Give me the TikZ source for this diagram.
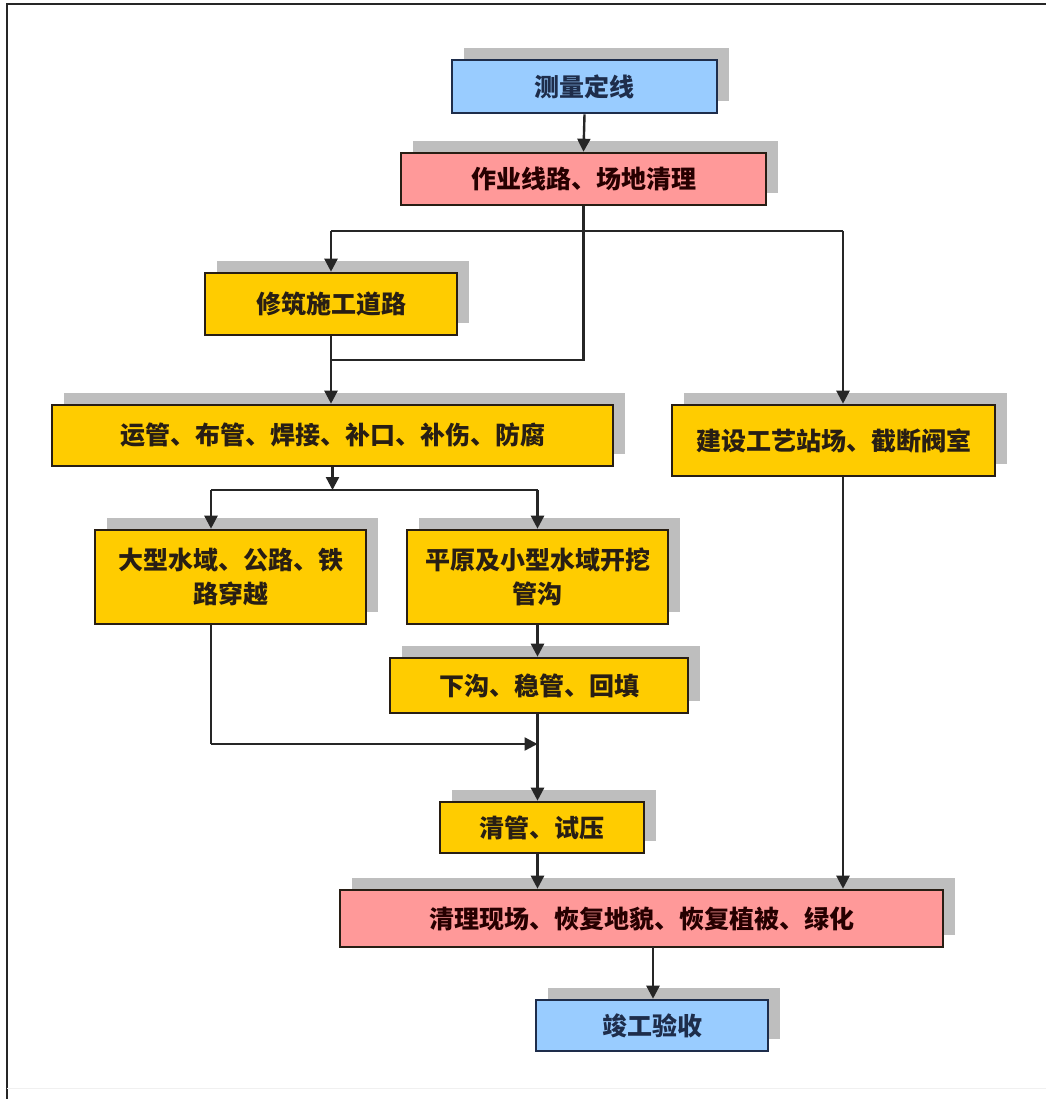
\documentclass[tikz,border=0pt]{standalone}
\usepackage{fontspec}
\newfontfamily\cjk{Noto Sans CJK SC}
\usetikzlibrary{arrows.meta,shadows}
\definecolor{bluefill}{RGB}{153,204,255}
\definecolor{pinkfill}{RGB}{255,153,153}
\definecolor{yellowfill}{RGB}{255,204,0}
\definecolor{shadowgray}{RGB}{190,190,190}
\definecolor{navy}{RGB}{30,45,75}
\definecolor{darkline}{RGB}{40,30,20}
\tikzset{
  boxbase/.style={draw=darkline, line width=2.6pt, inner sep=0pt, align=center,
    font=\cjk\bfseries\fontsize{25}{34}\selectfont, text=darkline,
    drop shadow={shadow xshift=12pt, shadow yshift=12pt, fill=shadowgray, opacity=1}},
  bluebox/.style={boxbase, fill=bluefill, draw=navy, text=navy},
  pinkbox/.style={boxbase, fill=pinkfill, text=black!85!red},
  yellowbox/.style={boxbase, fill=yellowfill},
  conn/.style={line width=2.4pt, draw=black!85},
  arr/.style={conn, -{Triangle[length=13pt,width=13pt]}},
}
\begin{document}
\begin{tikzpicture}[x=1pt,y=-1pt]
\useasboundingbox (0,0) rectangle (1046,1099);
\fill[white] (0,0) rectangle (1046,1099);
% frame
\draw[line width=2.4pt, black!85] (7,1099) -- (7,4) -- (1046,4);
\draw[line width=1pt, black!6] (7,1088) -- (1046,1088);

\node[bluebox, minimum width=265pt, minimum height=53pt] (m) at (584.5,86.5) {测量定线};
\node[pinkbox, minimum width=365pt, minimum height=52pt] (z) at (583.5,179) {作业线路、场地清理};
\node[yellowbox, minimum width=252pt, minimum height=62pt] (x) at (331,304) {修筑施工道路};
\node[yellowbox, minimum width=561pt, minimum height=61pt] (y) at (332.5,435.5) {运管、布管、焊接、补口、补伤、防腐};
\node[yellowbox, minimum width=323pt, minimum height=71pt] (j) at (833.5,440.5) {建设工艺站场、截断阀室};
\node[yellowbox, minimum width=271pt, minimum height=94pt] (d) at (230.5,577) {大型水域、公路、铁\\路穿越};
\node[yellowbox, minimum width=261pt, minimum height=94pt] (p) at (537.5,577) {平原及小型水域开挖\\管沟};
\node[yellowbox, minimum width=298pt, minimum height=55pt] (xg) at (539,685.5) {下沟、稳管、回填};
\node[yellowbox, minimum width=204pt, minimum height=51pt] (q) at (542,827.5) {清管、试压};
\node[pinkbox, minimum width=603pt, minimum height=57pt] (cl) at (641.5,918.5) {清理现场、恢复地貌、恢复植被、绿化};
\node[bluebox, minimum width=232pt, minimum height=51pt] (jg) at (652,1025.5) {竣工验收};

% connectors
\coordinate (hL) at (331,231);
\coordinate (hR) at (843,231);
\coordinate (zd) at (583.5,360);
\coordinate (xd) at (331,360);
\coordinate (yb) at (332.5,490);
\coordinate (bL) at (211,490);
\coordinate (bR) at (537.5,490);
\coordinate (dd) at (211,744);
\coordinate (dm) at (537.5,744);
\coordinate (cb) at (653,947);

\draw[arr] (m.south) -- (z.north);
\draw[conn] (z.south) -- (zd) -- (xd);
\draw[conn] (hL) -- (hR);
\draw[arr] (hL) -- (x.north);
\draw[arr] (hR) -- (hR |- j.north);
\draw[arr] (x.south) -- (x.south |- y.north);
\draw[arr] (y.south) -- (yb);
\draw[conn] (bL) -- (bR);
\draw[arr] (bL) -- (bL |- d.north);
\draw[arr] (bR) -- (p.north);
\draw[conn] (bL |- d.south) -- (dd);
\draw[arr] (dd) -- (dm);
\draw[arr] (p.south) -- (p.south |- xg.north);
\draw[arr] (p.south |- xg.south) -- (p.south |- q.north);
\draw[arr] (p.south |- q.south) -- (p.south |- cl.north);
\draw[arr] (hR |- j.south) -- (hR |- cl.north);
\draw[arr] (cb) -- (cb |- jg.north);
\end{tikzpicture}
\end{document}
